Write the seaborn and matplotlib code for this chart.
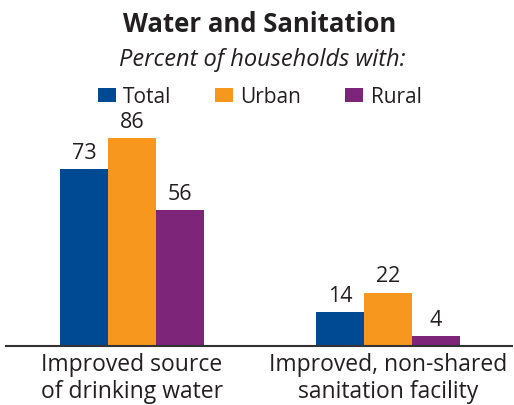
import matplotlib
matplotlib.use("Agg")
import matplotlib.pyplot as plt
from matplotlib.patches import Patch
import seaborn as sns
import pandas as pd

# Indicator categories and the percent of households by residence
categories = ["Improved source\nof drinking water", "Improved, non-shared\nsanitation facility"]
groups = ["Total", "Urban", "Rural"]
total = [73, 14]
urban = [86, 22]
rural = [56, 4]
colors = ["#004A93", "#F7971E", "#7D2579"]

df = pd.DataFrame({
    "category": categories * 3,
    "group": [g for g in groups for _ in categories],
    "value": total + urban + rural,
})

sns.set_theme(style="white")
plt.rcParams["font.family"] = ["Open Sans", "DejaVu Sans"]
text_color = "#231F20"

fig = plt.figure(figsize=(5.14, 4.06), dpi=100)
ax = fig.add_axes([0.0117, 0.1453, 0.9843, 0.5367])

sns.barplot(data=df, x="category", y="value", hue="group", palette=colors,
            width=0.5625, gap=0, saturation=1, linewidth=0, ax=ax, legend=False)

for container in ax.containers:
    ax.bar_label(container, fmt="%d", padding=4.5, fontsize=15.5, color=text_color)

ax.set_xlim(-0.492, 1.484)
ax.set_ylim(0, 90)
ax.set_xlabel("")
ax.set_ylabel("")
ax.set_yticks([])
ax.tick_params(axis="x", length=0, pad=4, labelsize=16.5, labelcolor=text_color)
for lbl in ax.get_xticklabels():
    lbl.set_linespacing(1.2)
for side in ["left", "right", "top"]:
    ax.spines[side].set_visible(False)
ax.spines["bottom"].set_color("#333333")
ax.spines["bottom"].set_linewidth(1.5)

fig.text(0.505, 0.94, "Water and Sanitation", ha="center", va="center",
         fontsize=18.5, fontweight="bold", color=text_color)
fig.text(0.51, 0.852, "Percent of households with:", ha="center", va="center",
         fontsize=17, fontstyle="italic", color=text_color)

handles = [Patch(facecolor=c, edgecolor="none", label=g) for g, c in zip(groups, colors)]
fig.legend(handles=handles, loc="center", bbox_to_anchor=(0.505, 0.759), ncol=3,
           frameon=False, fontsize=15, handlelength=0.86, handleheight=0.68,
           handletextpad=0.36, columnspacing=2.1, labelcolor=text_color,
           borderpad=0, borderaxespad=0)

fig.savefig("out.png", dpi=100)
